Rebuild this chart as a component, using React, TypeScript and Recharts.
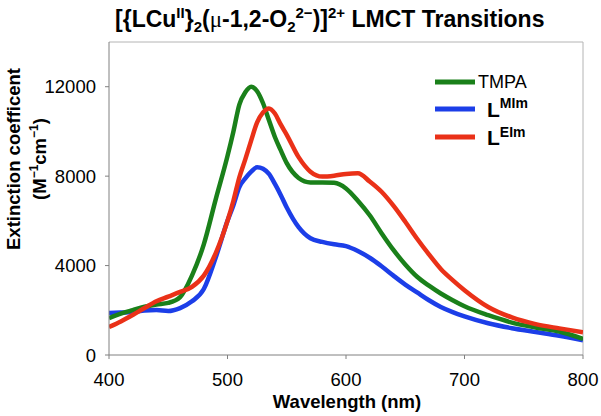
import React from "react";
import { LineChart, Line, XAxis, YAxis, ReferenceLine, Legend } from "recharts";

const wavelengths = [400, 410, 420, 430, 440, 450, 460, 470, 480, 490, 500, 505, 510, 515, 520, 525, 530, 535, 540, 545, 550, 560, 570, 580, 590, 600, 610, 620, 630, 640, 650, 660, 670, 680, 690, 700, 720, 740, 760, 780, 800];

const tmpa = [1650, 1850, 2010, 2160, 2260, 2330, 2590, 3550, 4950, 6950, 8900, 10000, 11200, 11750, 12000, 11800, 11260, 10500, 9750, 9150, 8580, 7920, 7720, 7720, 7700, 7450, 6900, 6250, 5450, 4700, 4050, 3500, 3100, 2750, 2450, 2180, 1780, 1450, 1230, 1050, 720];

const lMIm = [1880, 1900, 1920, 1990, 2010, 1970, 2100, 2400, 2950, 4350, 6000, 6700, 7510, 7900, 8200, 8400, 8330, 8100, 7650, 7150, 6600, 5720, 5220, 5060, 4950, 4870, 4650, 4350, 3970, 3550, 3150, 2800, 2450, 2150, 1920, 1730, 1420, 1200, 1030, 860, 660];

const lEIm = [1250, 1500, 1790, 2100, 2400, 2610, 2820, 3050, 3550, 4550, 6000, 6900, 7950, 8750, 9600, 10400, 10850, 11030, 10800, 10300, 9850, 8850, 8200, 7980, 8020, 8100, 8130, 7760, 7300, 6680, 5960, 5200, 4500, 3850, 3350, 2900, 2150, 1680, 1380, 1190, 1020];

const xTicks = [400, 500, 600, 700, 800];
const yTicks = [0, 4000, 8000, 12000];

const GREEN = "#1a801a";
const BLUE = "#1c3ee8";
const RED = "#ea3118";
const FONT = "'Liberation Sans', Arial, sans-serif";

const data = wavelengths.map((w, i) => ({ w, tmpa: tmpa[i], mim: lMIm[i], eim: lEIm[i] }));

const LegendContent = () => (
  <svg width={160} height={90} style={{ fontFamily: FONT, overflow: "visible" }}>
    <line x1={5} x2={45} y1={17} y2={17} stroke={GREEN} strokeWidth={5} />
    <text x={48} y={23} fontSize={18} fill="#000">TMPA</text>
    <line x1={5} x2={45} y1={44} y2={44} stroke={BLUE} strokeWidth={5} />
    <text x={57} y={52} fontSize={21} fontWeight="bold" fill="#000">
      L<tspan fontSize={14} dy={-9}>MIm</tspan>
    </text>
    <line x1={5} x2={45} y1={72} y2={72} stroke={RED} strokeWidth={5} />
    <text x={57} y={80} fontSize={21} fontWeight="bold" fill="#000">
      L<tspan fontSize={14} dy={-8}>EIm</tspan>
    </text>
  </svg>
);

export default function App() {
  return (
    <div style={{ position: "absolute", left: 0, top: 0, width: 601, height: 416, background: "#fff" }}>
      <LineChart width={601} height={416} data={data} margin={{ top: 42, right: 18, bottom: 0, left: 0 }}>
        <XAxis
          dataKey="w"
          type="number"
          domain={[400, 800]}
          ticks={xTicks}
          allowDataOverflow
          height={61}
          tickSize={4}
          tickMargin={14}
          stroke="#808080"
          tick={{ fill: "#000", fontSize: 18.5, fontFamily: FONT }}
        />
        <YAxis
          type="number"
          domain={[0, 14000]}
          ticks={yTicks}
          width={109}
          tickSize={4}
          tickMargin={9}
          stroke="#808080"
          tick={{ fill: "#000", fontSize: 18.5, fontFamily: FONT }}
        />
        <ReferenceLine y={14000} stroke="#b4b4b4" strokeWidth={1} />
        <ReferenceLine x={800} stroke="#b4b4b4" strokeWidth={1} />
        <Line type="monotone" dataKey="mim" stroke={BLUE} strokeWidth={4.5} dot={false} isAnimationActive={false} />
        <Line type="monotone" dataKey="tmpa" stroke={GREEN} strokeWidth={4.5} dot={false} isAnimationActive={false} />
        <Line type="monotone" dataKey="eim" stroke={RED} strokeWidth={4.5} dot={false} isAnimationActive={false} />
        <Legend
          layout="vertical"
          align="center"
          verticalAlign="middle"
          content={<LegendContent />}
          wrapperStyle={{ left: 430, top: 65, width: 160, height: 90 }}
        />
      </LineChart>
      <svg
        width={601}
        height={416}
        style={{ position: "absolute", left: 0, top: 0, pointerEvents: "none", fontFamily: FONT }}
      >
        <text x={115} y={27} fontSize={23} fontWeight="bold" fill="#000">
          [{"{"}LCu
          <tspan fontSize={15} dy={-9}>II</tspan>
          <tspan dy={9}>{"}"}</tspan>
          <tspan fontSize={15} dy={5}>2</tspan>
          <tspan dy={-5}>(</tspan>
          <tspan fontFamily="'Liberation Serif', serif" fontWeight="normal">μ</tspan>
          <tspan>-1,2-O</tspan>
          <tspan fontSize={15} dy={5}>2</tspan>
          <tspan fontSize={15} dy={-14}>2−</tspan>
          <tspan dy={9}>)]</tspan>
          <tspan fontSize={15} dy={-9}>2+</tspan>
          <tspan dy={9}> LMCT Transitions</tspan>
        </text>
        <text transform="translate(20,159) rotate(-90)" textAnchor="middle" fontSize={18.5} fontWeight="bold" fill="#000">
          Extinction coefficent
        </text>
        <text transform="translate(46,159) rotate(-90)" textAnchor="middle" fontSize={18.5} fontWeight="bold" fill="#000">
          (M<tspan fontSize={12} dy={-8}>−1</tspan>
          <tspan dy={8}>cm</tspan>
          <tspan fontSize={12} dy={-8}>−1</tspan>
          <tspan dy={8}>)</tspan>
        </text>
        <text x={347} y={408} textAnchor="middle" fontSize={18.5} fontWeight="bold" fill="#000">
          Wavelength (nm)
        </text>
      </svg>
    </div>
  );
}
